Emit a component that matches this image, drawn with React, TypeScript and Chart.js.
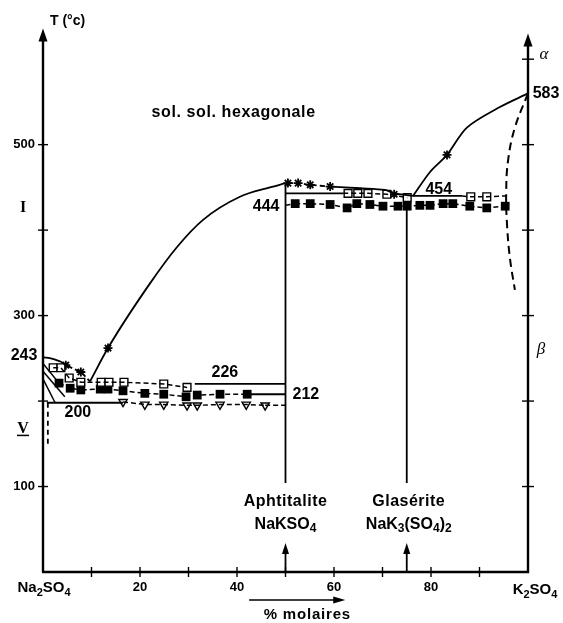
import { useEffect, useRef } from "react";
import { Chart, registerables } from "chart.js";
Chart.register(...registerables);

const FONT = "'Liberation Sans', Arial, sans-serif";
const SERIF = "'Liberation Serif', 'DejaVu Serif', serif";

// scale ranges
const X_MIN = 0;
const X_MAX = 100;
const T_MIN = 0;
const T_MAX = 640;
const LEFT_AXIS_TOP = 636;
const RIGHT_AXIS_TOP = 630;

// ticks
const xTicks = [10, 20, 30, 40, 50, 60, 70, 80, 90];
const xTickLabels = [20, 40, 60, 80];
const leftTicks = [100, 200, 300, 400, 500];
const leftTickLabels = [100, 300, 500];
const rightTicks = [100, 200, 300, 400, 500, 600];

// compounds (mol % K2SO4)
const aphtitaliteX = 50;
const glaseriteX = 75;

// left region
const arcX = [0, 1.6, 3.7];
const arcT = [251, 250, 246];
const starDashX = [3.7, 4.7, 7.8, 9.7];
const starDashT = [246, 242, 234, 223];
const liquidusX = [9.7, 13.4, 22.1, 27.6, 33.0, 40.6, 46.8, 50];
const liquidusT = [223, 262, 338, 380, 412, 439, 450, 455];

const openSqLeftX = [2.1, 3.7, 5.4, 7.8, 12.0, 13.6, 16.7, 24.9, 29.7];
const openSqLeftT = [239, 239, 227, 222, 222, 222, 222, 220, 216];
const line226X = [31.3, 50];
const line226T = [220, 220];

const fillSqLeftX = [3.3, 5.6, 7.8, 11.8, 13.4, 16.5, 21.0, 24.9, 29.5, 31.8, 36.5, 42.1];
const fillSqLeftT = [221, 215, 213, 214, 214, 212, 209, 208, 205, 207, 208, 208];
const line212X = [42.1, 50];
const line212T = [208, 208];

const triX = [16.5, 21.0, 24.9, 29.7, 31.8, 36.5, 41.9, 45.8];
const triT = [199, 196, 196, 195, 195, 196, 196, 195];
const triTailX = [45.8, 50];
const triTailT = [195, 195];
const line200X = [0.8, 16.5];
const line200T = [198, 198];
const dashLeftX = [1.0, 1.0];
const dashLeftT = [198, 150];

const fan1X = [0, 3.3];
const fan1T = [244, 221];
const fan2X = [0, 4.5];
const fan2T = [235, 205];
const fan3X = [0, 2.5];
const fan3T = [226, 198];

// upper region
const starTopX = [50.5, 52.6, 55.1, 59.2];
const starTopT = [455, 455, 453, 451];
const topSolidX = [59.2, 65.4, 70.5, 72.4, 76.3];
const topSolidT = [451, 449, 447, 443, 440];
const gamma444X = [50, 61.9];
const gamma444T = [443, 443];
const openSqTopX = [61.9, 62.9, 64.9, 67.0, 70.9, 75.1];
const openSqTopT = [443, 443, 443, 443, 442, 438];
const fillSqTopX = [52.0, 55.1, 59.2, 62.7, 64.7, 67.4, 70.1, 73.2, 75.1, 77.7, 79.8, 82.5, 84.5, 88.0, 91.5, 95.3];
const fillSqTopT = [431, 431, 430, 426, 431, 430, 428, 428, 428, 429, 429, 431, 431, 428, 426, 428];
const fillTailX = [50, 52.0];
const fillTailT = [429, 431];

const rightX = [76.3, 79.8, 83.3, 87.4, 94.2, 100];
const rightT = [440, 468, 488, 520, 544, 560];
const rightDashX = [100, 97.3, 95.9, 95.5, 95.7, 96.3, 97.3];
const rightDashT = [560, 520, 482, 443, 404, 366, 330];
const line454X = [76.3, 86.4];
const line454T = [440, 440];
const openSq454X = [88.2, 91.5];
const openSq454T = [439, 439];
const tail454X = [86.4, 88.2, 91.5, 95.5];
const tail454T = [440, 439, 439, 440];

const starX = [4.7, 7.8, 13.4, 50.5, 52.6, 55.1, 59.2, 72.4, 83.3];
const starT = [242, 234, 262, 455, 455, 453, 451, 442, 488];

const vertAphX = [50, 50];
const vertAphT = [455, 104];
const vertGlaX = [75, 75];
const vertGlaT = [424, 104];
const ARROW_TOP_T = 34;

const pts = (xs: number[], ts: number[]) => xs.map((x, i) => ({ x, y: ts[i] }));

function lineDs(xs: number[], ts: number[], extra: any = {}) {
  return {
    data: pts(xs, ts),
    showLine: true,
    borderColor: "#000",
    backgroundColor: "#000",
    borderWidth: 1.8,
    pointRadius: 0,
    fill: false,
    tension: 0,
    clip: false,
    ...extra,
  };
}

function markerDs(xs: number[], ts: number[], extra: any = {}) {
  return {
    data: pts(xs, ts),
    showLine: false,
    borderColor: "#000",
    clip: false,
    ...extra,
  };
}

type Seg = [string, boolean];
function richText(ctx: CanvasRenderingContext2D, segs: Seg[], cx: number, cy: number, size: number) {
  const main = `bold ${size}px ${FONT}`;
  const sub = `bold ${Math.round(size * 0.72)}px ${FONT}`;
  let w = 0;
  for (const [t, s] of segs) {
    ctx.font = s ? sub : main;
    w += ctx.measureText(t).width;
  }
  let x = cx - w / 2;
  ctx.textAlign = "left";
  ctx.textBaseline = "middle";
  for (const [t, s] of segs) {
    ctx.font = s ? sub : main;
    ctx.fillText(t, x, s ? cy + size * 0.3 : cy);
    x += ctx.measureText(t).width;
  }
}

function arrowUp(ctx: CanvasRenderingContext2D, x: number, y: number, len = 11, half = 4) {
  ctx.beginPath();
  ctx.moveTo(x, y);
  ctx.lineTo(x - half, y + len);
  ctx.lineTo(x + half, y + len);
  ctx.closePath();
  ctx.fill();
}

function seg(ctx: CanvasRenderingContext2D, x1: number, y1: number, x2: number, y2: number) {
  ctx.beginPath();
  ctx.moveTo(x1, y1);
  ctx.lineTo(x2, y2);
  ctx.stroke();
}

const annotations = {
  id: "annotations",
  afterDraw(chart: any) {
    const ctx: any = chart.ctx;
    const xs = chart.scales.x;
    const ys = chart.scales.y;
    const px = (v: number) => xs.getPixelForValue(v);
    const py = (v: number) => ys.getPixelForValue(v);
    ctx.save();
    ctx.strokeStyle = "#000";
    ctx.fillStyle = "#000";
    ctx.setLineDash([]);

    // axes
    ctx.lineWidth = 2.4;
    seg(ctx, px(0), py(0), px(0), py(LEFT_AXIS_TOP) + 8);
    arrowUp(ctx, px(0), py(LEFT_AXIS_TOP), 13, 4.5);
    seg(ctx, px(100), py(0) + 1, px(100), py(RIGHT_AXIS_TOP) + 8);
    arrowUp(ctx, px(100), py(RIGHT_AXIS_TOP), 13, 4.5);
    seg(ctx, px(0) - 1, py(0), px(100) + 1, py(0));

    // ticks
    ctx.lineWidth = 1.4;
    for (const t of leftTicks) seg(ctx, px(0) - 5, py(t), px(0) + 5, py(t));
    for (const t of rightTicks) seg(ctx, px(100) - 6, py(t), px(100) + 6, py(t));
    for (const v of xTicks) seg(ctx, px(v), py(0) - 5, px(v), py(0) + 5);

    // vertical arrows at compounds
    ctx.lineWidth = 1.8;
    for (const v of [aphtitaliteX, glaseriteX]) {
      seg(ctx, px(v), py(0), px(v), py(ARROW_TOP_T) + 6);
      arrowUp(ctx, px(v), py(ARROW_TOP_T), 11, 3.5);
    }

    // tick labels
    ctx.font = `bold 13px ${FONT}`;
    ctx.textAlign = "right";
    ctx.textBaseline = "middle";
    for (const t of leftTickLabels) ctx.fillText(String(t), px(0) - 8, py(t));
    ctx.textAlign = "center";
    for (const v of xTickLabels) ctx.fillText(String(v), px(v), py(0) + 15);

    // axis title
    ctx.font = `bold 14px ${FONT}`;
    ctx.textAlign = "left";
    ctx.fillText("T (°c)", px(0) + 7, py(0) - 551);

    // roman numerals
    ctx.font = `bold 16px ${SERIF}`;
    ctx.textAlign = "center";
    ctx.fillText("I", px(0) - 20, py(426));
    ctx.fillText("V", px(0) - 20, py(168));
    ctx.lineWidth = 1.5;
    seg(ctx, px(0) - 26, py(168) + 7, px(0) - 14, py(168) + 7);

    // Greek
    ctx.font = `italic 17px ${SERIF}`;
    ctx.fillText("α", px(100) + 16, py(605));
    ctx.fillText("β", px(100) + 13, py(260));

    // value labels
    ctx.font = `bold 16px ${FONT}`;
    ctx.textAlign = "center";
    ctx.fillText("243", px(0) - 19, py(253));
    ctx.fillText("200", px(7.2), py(186));
    ctx.fillText("226", px(37.5), py(233));
    ctx.fillText("212", px(54.2), py(208));
    ctx.fillText("444", px(46), py(427));
    ctx.fillText("454", px(81.6), py(447));
    ctx.fillText("583", px(100) + 18, py(560));

    // region label
    ctx.letterSpacing = "0.6px";
    ctx.font = `bold 16px ${FONT}`;
    ctx.fillText("sol. sol. hexagonale", px(39.3), py(537));

    // compound names
    ctx.letterSpacing = "0.5px";
    ctx.font = `bold 16px ${FONT}`;
    ctx.fillText("Aphtitalite", px(aphtitaliteX), py(82));
    ctx.fillText("Glasérite", px(glaseriteX) + 2, py(82));
    ctx.letterSpacing = "0px";
    richText(ctx, [["NaKSO", false], ["4", true]], px(aphtitaliteX), py(56), 16);
    richText(ctx, [["NaK", false], ["3", true], ["(SO", false], ["4", true], [")", false], ["2", true]], px(glaseriteX) + 2, py(56), 16);

    // end members
    richText(ctx, [["Na", false], ["2", true], ["SO", false], ["4", true]], px(0) + 1, py(0) + 16, 15);
    richText(ctx, [["K", false], ["2", true], ["SO", false], ["4", true]], px(100) + 7, py(0) + 18, 15);

    // % molaires
    ctx.letterSpacing = "0.8px";
    ctx.font = `bold 15px ${FONT}`;
    ctx.textAlign = "center";
    ctx.fillText("% molaires", px(54.5), py(0) + 43);
    ctx.letterSpacing = "0px";
    ctx.lineWidth = 1.4;
    seg(ctx, px(42.5), py(0) + 28, px(61.5), py(0) + 28);
    ctx.beginPath();
    ctx.moveTo(px(61.5) + 4, py(0) + 28);
    ctx.lineTo(px(61.5) - 8, py(0) + 24.5);
    ctx.lineTo(px(61.5) - 8, py(0) + 31.5);
    ctx.closePath();
    ctx.fill();

    ctx.restore();
  },
};

export default function App() {
  const ref = useRef<HTMLCanvasElement>(null);
  useEffect(() => {
    if (!ref.current) return;
    const dash = [5, 3];
    const chart = new Chart(ref.current, {
      type: "scatter",
      data: {
        datasets: [
          lineDs(fan1X, fan1T, { borderWidth: 1.5 }),
          lineDs(fan2X, fan2T, { borderWidth: 1.5 }),
          lineDs(fan3X, fan3T, { borderWidth: 1.5 }),
          lineDs(arcX, arcT, { tension: 0.4 }),
          lineDs(starDashX, starDashT, { borderDash: dash }),
          lineDs(liquidusX, liquidusT, { cubicInterpolationMode: "monotone" }),
          lineDs(openSqLeftX, openSqLeftT, { borderDash: dash, borderWidth: 1.5 }),
          lineDs(line226X, line226T),
          lineDs(fillSqLeftX, fillSqLeftT, { borderDash: dash, borderWidth: 1.5 }),
          lineDs(line212X, line212T),
          lineDs(triX, triT, { borderDash: dash, borderWidth: 1.5 }),
          lineDs(triTailX, triTailT, { borderDash: dash, borderWidth: 1.5 }),
          lineDs(line200X, line200T),
          lineDs(dashLeftX, dashLeftT, { borderDash: [5, 4] }),
          lineDs(starTopX, starTopT, { borderDash: dash, tension: 0.3 }),
          lineDs(topSolidX, topSolidT, { tension: 0.3 }),
          lineDs(gamma444X, gamma444T),
          lineDs(openSqTopX, openSqTopT, { borderDash: dash, borderWidth: 1.5 }),
          lineDs(fillTailX, fillTailT, { borderDash: dash, borderWidth: 1.5 }),
          lineDs(fillSqTopX, fillSqTopT, { borderDash: dash, borderWidth: 1.5 }),
          lineDs(rightX, rightT, { tension: 0.3 }),
          lineDs(rightDashX, rightDashT, { borderDash: [8, 5], borderWidth: 2, tension: 0.4 }),
          lineDs(line454X, line454T),
          lineDs(tail454X, tail454T, { borderDash: dash, borderWidth: 1.5 }),
          lineDs(vertAphX, vertAphT),
          lineDs(vertGlaX, vertGlaT),
          markerDs(openSqLeftX, openSqLeftT, { pointStyle: "rect", pointRadius: 5.5, pointBackgroundColor: "#fff", pointBorderWidth: 1.4 }),
          markerDs(fillSqLeftX, fillSqLeftT, { pointStyle: "rect", pointRadius: 6.2, pointBackgroundColor: "#000", pointBorderWidth: 0 }),
          markerDs(triX, triT, { pointStyle: "triangle", rotation: 180, pointRadius: 4.8, pointBackgroundColor: "#fff", pointBorderWidth: 1.4 }),
          markerDs(openSqTopX.slice(1), openSqTopT.slice(1), { pointStyle: "rect", pointRadius: 5.5, pointBackgroundColor: "#fff", pointBorderWidth: 1.4 }),
          markerDs(fillSqTopX, fillSqTopT, { pointStyle: "rect", pointRadius: 6.2, pointBackgroundColor: "#000", pointBorderWidth: 0 }),
          markerDs(openSq454X, openSq454T, { pointStyle: "rect", pointRadius: 5.5, pointBackgroundColor: "#fff", pointBorderWidth: 1.4 }),
          markerDs(starX, starT, { pointStyle: "star", pointRadius: 4.5, pointBorderWidth: 1.8 }),
        ] as any,
      },
      options: {
        responsive: false,
        animation: false,
        devicePixelRatio: 1,
        layout: { padding: { left: 43, right: 35, top: 25, bottom: 51 } },
        plugins: { legend: { display: false }, tooltip: { enabled: false } },
        scales: {
          x: { type: "linear", min: X_MIN, max: X_MAX, display: false },
          y: { type: "linear", min: T_MIN, max: T_MAX, display: false },
        },
      },
      plugins: [annotations],
    });
    return () => chart.destroy();
  }, []);
  return (
    <div style={{ position: "absolute", left: 0, top: 0, width: 563, height: 623, background: "#fff" }}>
      <canvas ref={ref} width={563} height={623} style={{ display: "block" }} />
    </div>
  );
}
